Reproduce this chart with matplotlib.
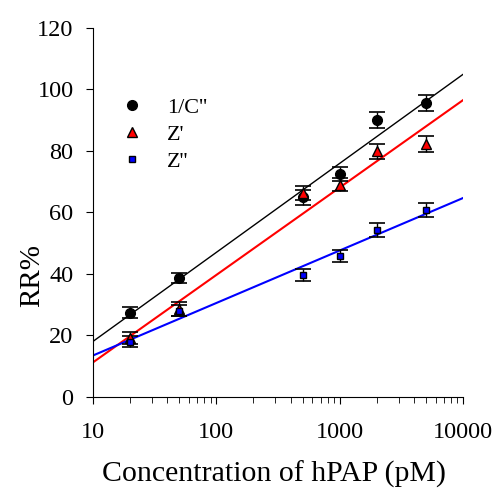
import numpy as np
import matplotlib
matplotlib.use("Agg")
import matplotlib.pyplot as plt

plt.rcParams['font.family'] = ['Liberation Serif', 'DejaVu Serif']

# concentrations (pM)
conc = np.array([20, 50, 500, 1000, 2000, 5000])

# response ratios (%)
rr_c = [27.4, 38.8, 64.9, 72.6, 89.9, 95.6]
rr_zp = [19.2, 28.6, 66.3, 69.0, 79.9, 82.3]
rr_zpp = [18.0, 28.0, 39.7, 45.9, 54.3, 60.8]

err_c = [1.8, 1.6, 2.5, 2.3, 2.6, 2.7]
err_zp = [2.0, 2.2, 2.3, 2.1, 2.4, 2.6]
err_zpp = [1.8, 1.8, 2.0, 2.0, 2.2, 2.3]

# linear fits RR = a + b*log10(c)
fit_c = (-10.9, 28.95)
fit_zp = (-17.2, 28.43)
fit_zpp = (-3.6, 17.07)

fig = plt.figure(figsize=(4.96, 4.90), dpi=100)
ax = fig.add_axes([0.1875, 0.19, 0.746, 0.753])

xf = np.logspace(1, 4, 50)
ax.plot(xf, fit_c[0] + fit_c[1]*np.log10(xf), color='black', lw=1.0)
ax.plot(xf, fit_zp[0] + fit_zp[1]*np.log10(xf), color='red', lw=1.5)
ax.plot(xf, fit_zpp[0] + fit_zpp[1]*np.log10(xf), color='blue', lw=1.5)

ax.errorbar(conc, rr_c, yerr=err_c, fmt='o', color='black', ms=7,
            ecolor='black', elinewidth=1, capsize=6, capthick=1.2, label="1/C''")
ax.errorbar(conc, rr_zp, yerr=err_zp, fmt='^', mfc='red', mec='black', ms=7.5,
            ecolor='black', elinewidth=1, capsize=6, capthick=1.2, label="Z'")
ax.errorbar(conc, rr_zpp, yerr=err_zpp, fmt='s', mfc='blue', mec='black', ms=4.8,
            ecolor='black', elinewidth=1, capsize=6, capthick=1.2, label="Z''")

ax.set_xscale('log')
ax.set_xlim(10, 10000)
ax.set_ylim(0, 120)
ax.set_yticks(range(0, 121, 20))
ax.set_xticks([10, 100, 1000, 10000])
ax.set_xticklabels(['10', '100', '1000', '10000'])
ax.spines['top'].set_visible(False)
ax.spines['right'].set_visible(False)
ax.tick_params(which='major', length=5, labelsize=17.5, direction='out')
ax.tick_params(which='minor', length=4, direction='out')
ax.tick_params(axis='x', pad=13)
ax.tick_params(axis='y', pad=9)

ax.set_xlabel('Concentration of hPAP (pM)', fontsize=21.5, va='center')
ax.xaxis.set_label_coords(0.49, -0.21)
ax.set_ylabel('RR%', fontsize=21, va='center')
ax.yaxis.set_label_coords(-0.165, 0.33)

handles, labels = ax.get_legend_handles_labels()
handles = [h[0] for h in handles]
ax.legend(handles, labels, loc='upper left', bbox_to_anchor=(0.02, 0.867),
          frameon=False, fontsize=16, handletextpad=1.1, labelspacing=0.3,
          handlelength=1.0)

fig.savefig('out.png', dpi=100)
